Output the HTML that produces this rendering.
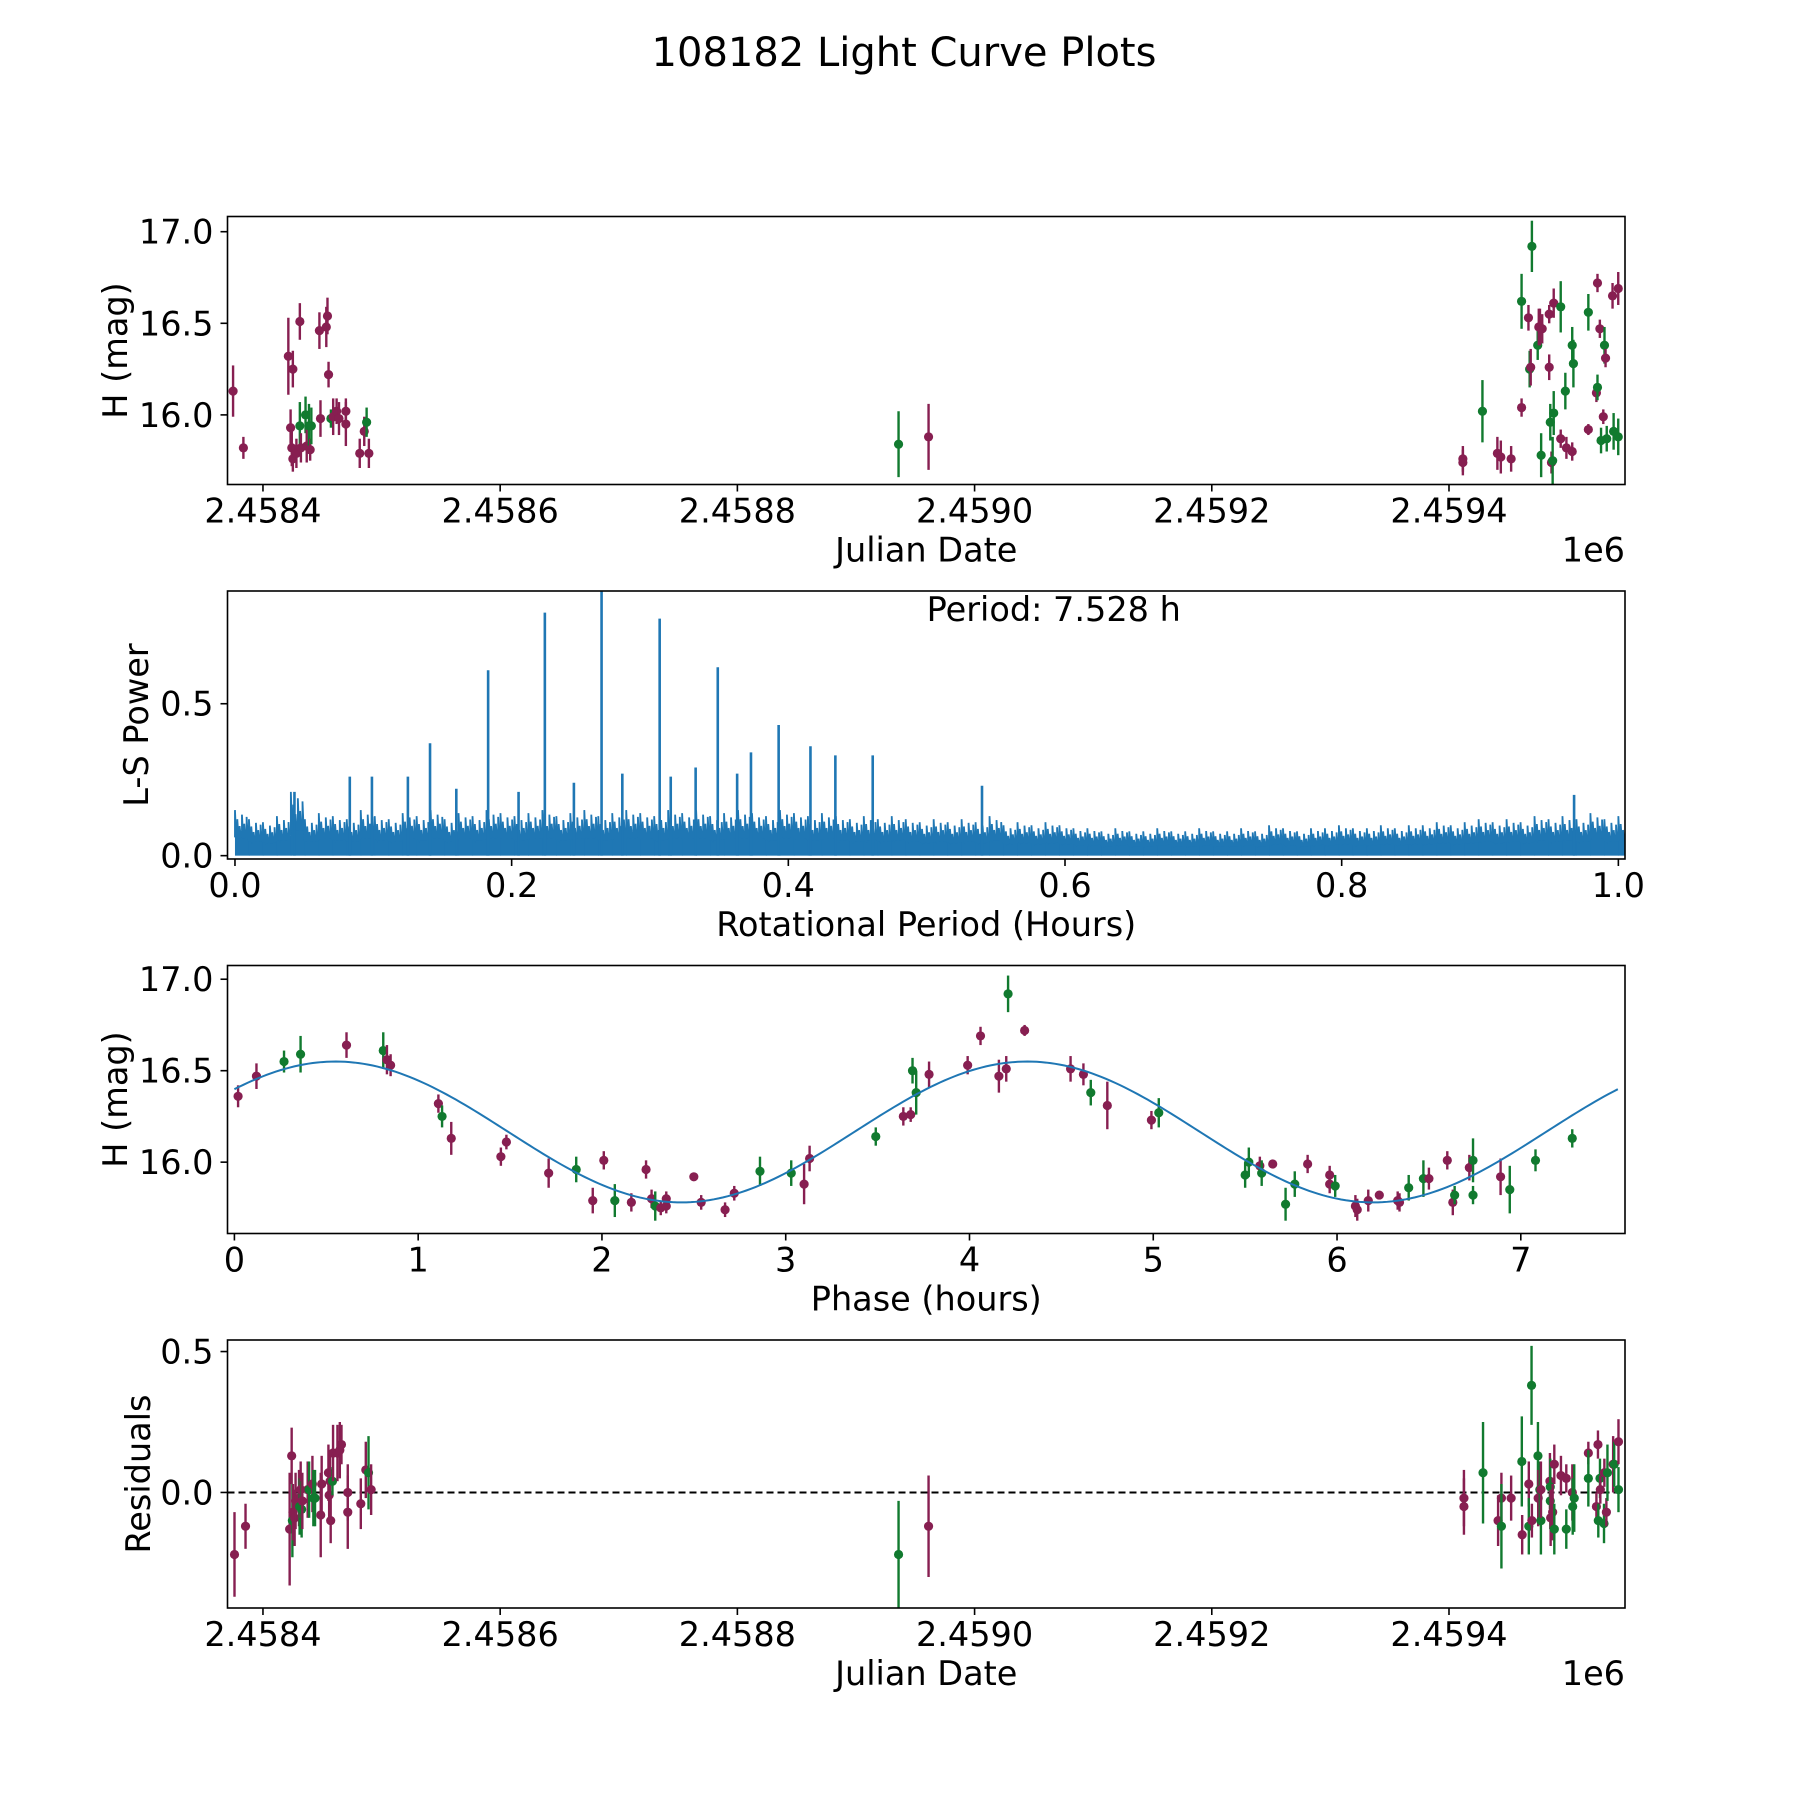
<!DOCTYPE html>
<html><head><meta charset="utf-8"><style>
html,body{margin:0;padding:0;background:#fff}
svg text{font-family:"DejaVu Sans","Liberation Sans",sans-serif;fill:#000}
</style></head><body>
<svg id="fig" width="1800" height="1800" viewBox="0 0 1800 1800" xmlns="http://www.w3.org/2000/svg">
<text x="904" y="66" font-size="40" text-anchor="middle">108182 Light Curve Plots</text>
<g id="p1"></g>
<g id="p2"></g>
<g id="p3"></g>
<g id="p4"></g>
</svg>
<script>
// ---- Panel 1: light curve (JD - 2458000)
const lcT = [374.8,383.5,421.4,423.3,424.3,425.2,425.2,428.2,431.1,431.1,432.0,435.9,436.9,438.8,439.8,440.8,447.6,448.5,453.4,454.4,455.3,457.3,459.2,462.1,464.1,469.9,469.9,481.6,485.4,487.4,489.3,935.9,961.2,
1411.7,1411.7,1428.2,1440.8,1443.7,1452.4,1461.2,1461.2,1467.0,1468.0,1468.9,1469.9,1474.8,1475.7,1476.7,1477.7,1478.6,1484.5,1484.5,1485.4,1486.4,1487.4,1488.3,1488.3,1494.2,1494.2,1498.1,1499.0,1503.9,1503.9,1504.9,1517.5,1517.5,1524.3,1525.2,1525.2,1527.2,1528.2,1530.1,1531.1,1532.0,1533.0,1537.9,1538.8,1542.7,1542.7];
const lcMag = [16.13,15.82,16.32,15.93,15.82,16.25,15.76,15.79,16.51,15.94,15.82,16.0,15.83,15.94,15.81,15.94,16.46,15.98,16.48,16.54,16.22,15.98,15.99,16.02,15.98,16.02,15.95,15.79,15.91,15.96,15.79,15.84,15.88,
15.76,15.74,16.02,15.79,15.77,15.76,16.04,16.62,16.53,16.25,16.26,16.92,16.38,16.48,16.48,15.78,16.47,16.26,16.55,15.96,15.74,15.75,16.01,16.61,16.59,15.87,16.13,15.82,15.80,16.38,16.28,16.56,15.92,16.12,16.15,16.72,16.47,15.86,15.99,16.38,16.31,15.87,16.65,15.91,16.69,15.88];
const lcErr = [0.14,0.06,0.21,0.10,0.10,0.10,0.07,0.08,0.10,0.13,0.08,0.10,0.09,0.12,0.06,0.10,0.10,0.10,0.11,0.10,0.07,0.05,0.10,0.07,0.09,0.07,0.12,0.08,0.08,0.08,0.08,0.18,0.18,
0.07,0.07,0.17,0.09,0.09,0.07,0.05,0.15,0.07,0.10,0.10,0.14,0.08,0.10,0.10,0.12,0.08,0.07,0.05,0.10,0.06,0.13,0.12,0.08,0.14,0.05,0.10,0.06,0.05,0.10,0.13,0.10,0.03,0.05,0.07,0.05,0.05,0.07,0.04,0.10,0.05,0.07,0.07,0.10,0.09,0.10];
const lcBand = "mmmmmmmmmgmgmgmgmmmmmgmmmmmmmgmgm"+"mmgmmmmgmgmggmmgmmmgmggmgmgmmgggmmgmmgmgmgmgmg";

// ---- Panel 2: periodogram
const lsNoise = [0.15,0.12,0.11,0.13,0.21,0.12,0.14,0.13,0.12,0.15,0.13,0.12,0.14,0.13,0.15,0.12,0.14,0.13,0.15,0.14,0.13,0.14,0.15,0.13,0.14,0.15,0.13,0.14,0.15,0.14,0.13,0.15,0.14,0.15,0.13,0.14,0.15,0.14,0.13,0.15,0.14,0.13,0.14,0.13,0.12,0.13,0.12,0.13,0.12,0.11,0.12,0.11,0.12,0.11,0.13,0.10,0.11,0.10,0.11,0.10,0.09,0.09,0.08,0.09,0.08,0.08,0.09,0.08,0.08,0.09,0.08,0.08,0.09,0.08,0.10,0.09,0.08,0.09,0.09,0.10,0.09,0.09,0.10,0.09,0.10,0.10,0.11,0.10,0.11,0.12,0.11,0.12,0.11,0.13,0.12,0.13,0.12,0.14,0.12,0.13];
const peakPeriod = [0.043,0.083,0.099,0.125,0.141,0.160,0.183,0.205,0.224,0.245,0.265,0.280,0.307,0.315,0.333,0.349,0.363,0.373,0.393,0.416,0.434,0.461,0.540,0.968];
const peakPower  = [0.21,0.26,0.26,0.26,0.37,0.22,0.61,0.21,0.80,0.24,0.87,0.27,0.78,0.26,0.29,0.62,0.27,0.34,0.43,0.36,0.33,0.33,0.23,0.20];

// ---- Panel 3: phased
const phHours = [0.02,0.12,0.27,0.36,0.61,0.81,0.83,0.85,1.11,1.13,1.18,1.45,1.48,1.71,1.86,1.95,2.01,2.07,2.16,2.24,2.27,2.29,2.32,2.35,2.35,2.50,2.54,2.67,2.72,2.86,3.03,3.10,3.13,3.49,3.64,3.68,3.69,3.71,3.78,3.99,4.06,4.16,4.20,4.21,4.30,4.55,4.62,4.66,4.75,4.99,5.03,5.50,5.52,5.58,5.59,5.65,5.72,5.77,5.84,5.96,5.96,5.99,6.10,6.11,6.17,6.23,6.33,6.34,6.39,6.47,6.50,6.60,6.63,6.64,6.72,6.74,6.74,6.89,6.94,7.08,7.28];
const phMag = [16.36,16.47,16.55,16.59,16.64,16.61,16.56,16.53,16.32,16.25,16.13,16.03,16.11,15.94,15.96,15.79,16.01,15.79,15.78,15.96,15.80,15.76,15.75,15.80,15.76,15.92,15.78,15.74,15.83,15.95,15.94,15.88,16.02,16.14,16.25,16.26,16.50,16.38,16.48,16.53,16.69,16.47,16.51,16.92,16.72,16.51,16.48,16.38,16.31,16.23,16.27,15.93,16.00,15.98,15.94,15.99,15.77,15.88,15.99,15.88,15.93,15.87,15.76,15.74,15.79,15.82,15.79,15.78,15.86,15.91,15.91,16.01,15.78,15.82,15.97,16.01,15.82,15.92,15.85,16.01,16.13];
const phErr = [0.06,0.07,0.06,0.10,0.07,0.10,0.08,0.06,0.05,0.06,0.09,0.05,0.04,0.08,0.07,0.07,0.05,0.09,0.05,0.05,0.05,0.08,0.04,0.04,0.04,0.02,0.04,0.04,0.04,0.08,0.07,0.11,0.07,0.05,0.05,0.04,0.07,0.12,0.07,0.05,0.05,0.09,0.07,0.10,0.03,0.07,0.06,0.07,0.13,0.05,0.08,0.07,0.08,0.05,0.07,0.02,0.09,0.07,0.05,0.05,0.05,0.06,0.06,0.06,0.06,0.02,0.05,0.05,0.07,0.10,0.06,0.05,0.07,0.05,0.07,0.12,0.05,0.10,0.13,0.06,0.05];
const phBand = "mmggmgmmmgmmmmgmmgmmmgmmmmmmmggmmgmmggmmmmmgmmmgmmgggmgmggmmmgmmmmmmggmmmgmggmggggg";
const fitMean = 16.165, fitAmp = 0.385, fitPeak = 0.55, fitPeriod = 3.764;

// ---- Panel 4: residuals
const resT = [376.0,385.3,422.5,424.2,424.8,425.3,426.7,427.5,430.4,430.9,431.8,432.6,433.2,437.7,438.9,441.7,442.5,443.9,448.7,449.5,455.2,455.8,456.6,457.1,458.6,459.1,462.8,464.8,466.2,471.5,471.5,482.5,486.7,489.0,491.2,935.9,961.2,
1412.6,1412.6,1428.7,1441.4,1444.2,1444.2,1452.4,1461.4,1461.7,1467.3,1467.3,1469.6,1469.9,1475.0,1475.2,1476.6,1477.5,1477.5,1485.1,1485.4,1485.4,1485.7,1487.4,1488.8,1488.8,1494.4,1498.9,1498.9,1504.0,1504.3,1505.6,1517.5,1517.5,1524.3,1525.6,1525.9,1527.3,1527.6,1530.7,1531.0,1532.7,1533.6,1538.4,1539.3,1542.9,1542.9];
const resVal = [-0.22,-0.12,-0.13,0.13,-0.10,-0.07,-0.09,-0.03,-0.02,-0.05,0.01,-0.06,-0.03,0.01,0.01,0.03,-0.02,-0.02,-0.08,0.03,0.07,-0.01,0.04,-0.10,0.04,0.14,0.14,0.15,0.17,0.00,-0.07,-0.04,0.08,0.07,0.01,-0.22,-0.12,
-0.02,-0.05,0.07,-0.10,-0.02,-0.12,-0.02,0.11,-0.15,0.03,-0.12,0.38,-0.10,0.13,-0.02,0.01,-0.10,0.01,0.04,0.02,-0.03,-0.09,-0.07,0.10,-0.13,0.06,0.05,-0.13,0.00,-0.05,-0.02,0.14,0.05,-0.05,0.17,-0.10,0.05,0.01,-0.11,0.07,-0.07,0.07,0.10,0.10,0.18,0.01];
const resErr = [0.15,0.08,0.20,0.10,0.13,0.10,0.10,0.10,0.10,0.10,0.10,0.10,0.10,0.10,0.10,0.10,0.10,0.10,0.15,0.10,0.10,0.10,0.10,0.08,0.05,0.10,0.10,0.10,0.07,0.10,0.13,0.09,0.10,0.13,0.09,0.19,0.18,
0.10,0.10,0.18,0.09,0.09,0.15,0.08,0.16,0.07,0.08,0.10,0.14,0.06,0.12,0.10,0.10,0.12,0.10,0.10,0.10,0.10,0.10,0.10,0.07,0.09,0.07,0.05,0.07,0.10,0.10,0.12,0.04,0.10,0.05,0.05,0.06,0.07,0.05,0.07,0.05,0.05,0.10,0.10,0.08,0.08,0.08];
const resBand = "mmmmgmmmmgmgmmgmggmmmmmmgmmmmmmmmgmgm"+"mmgmmgmgmmggmgmggmmggmmmgmmgmggmgmmggmgmmgmgmg";

const jdTicks = [400,600,800,1000,1200,1400];
const jdTickLabels = ["2.4584","2.4586","2.4588","2.4590","2.4592","2.4594"];
const magTicks = [16.0,16.5,17.0];
const magTickLabels = ["16.0","16.5","17.0"];
const perTicks = [0,0.2,0.4,0.6,0.8,1.0];
const perTickLabels = ["0.0","0.2","0.4","0.6","0.8","1.0"];
const powTicks = [0,0.5];
const powTickLabels = ["0.0","0.5"];
const phTicks = [0,1,2,3,4,5,6,7];
const phTickLabels = ["0","1","2","3","4","5","6","7"];
const resTicks = [0,0.5];
const resTickLabels = ["0.0","0.5"];

const NS="http://www.w3.org/2000/svg";
const L=227.5, R=1625, H=268, FS=33.5;
const tops=[216.5,591,965.5,1340];
const MAROON="#871f51", GREEN="#117a2f";
function mk(parent,tag,attrs){const e=document.createElementNS(NS,tag);for(const k in attrs)e.setAttribute(k,attrs[k]);parent.appendChild(e);return e;}
function lin(d0,d1,r0,r1){return v=>r0+(v-d0)*(r1-r0)/(d1-d0);}

function axes(g,top,xs,ys,xt,xtl,yt,ytl,xlabel,ylabel,ylx,offset){
  const bot=top+H;
  xt.forEach((v,i)=>{const x=xs(v);
    const t=mk(g,'line',{x1:x,x2:x,y1:bot,y2:bot+7,stroke:'#000','stroke-width':1.6});
    
    const tx=mk(g,'text',{x:x,y:bot+38,'font-size':FS,'text-anchor':'middle'});tx.textContent=xtl[i];
    });
  yt.forEach((v,i)=>{const y=ys(v);
    const t=mk(g,'line',{x1:L-7,x2:L,y1:y,y2:y,stroke:'#000','stroke-width':1.6});
    
    const tx=mk(g,'text',{x:L-14,y:y+12,'font-size':FS,'text-anchor':'end'});tx.textContent=ytl[i];
    });
  const xl=mk(g,'text',{x:(L+R)/2,y:bot+77,'font-size':FS,'text-anchor':'middle'});xl.textContent=xlabel;
  
  const cy=top+H/2;
  const yl=mk(g,'text',{x:ylx,y:cy,'font-size':FS,'text-anchor':'middle',transform:`rotate(-90 ${ylx} ${cy})`});yl.textContent=ylabel;
  
  if(offset){const o=mk(g,'text',{x:R,y:bot+77,'font-size':FS,'text-anchor':'end'});o.textContent=offset;
    }
}
function frame(g,top){const f=mk(g,'rect',{x:L,y:top,width:R-L,height:H,fill:'none',stroke:'#000','stroke-width':1.6});
  }
function clip(id,top){const c=mk(document.getElementById('fig'),'clipPath',{id:id});mk(c,'rect',{x:L,y:top,width:R-L,height:H});}
function errPoints(g,xs,ys,X,Y,E,band,name){
  X.forEach((xv,i)=>{const col=band[i]==='g'?GREEN:MAROON;const x=xs(xv);
    const b=mk(g,'line',{x1:x,x2:x,y1:ys(Y[i]-E[i]),y2:ys(Y[i]+E[i]),stroke:col,'stroke-width':2.4});
    
    const c=mk(g,'circle',{cx:x,cy:ys(Y[i]),r:4.6,fill:col});
    });
}

// Panel 1
(function(){const g=document.getElementById('p1');const top=tops[0];
  const xs=lin(370.1,1548.4,L,R), ys=lin(15.62,17.083,top+H,top);
  clip('c1',top);const d=mk(g,'g',{'clip-path':'url(#c1)'});
  errPoints(d,xs,ys,lcT,lcMag,lcErr,lcBand,'observation');
  frame(g,top);axes(g,top,xs,ys,jdTicks,jdTickLabels,magTicks,magTickLabels,'Julian Date','H (mag)',127,'1e6');})();

// Panel 2
(function(){const g=document.getElementById('p2');const top=tops[1];
  const xs=lin(-0.0054,1.0048,L,R), ys=lin(-0.011,0.871,top+H,top);
  clip('c2',top);const d=mk(g,'g',{'clip-path':'url(#c2)'});
  const step=1/(lsNoise.length-1);
  let pts=[];
  const shape=[1,0.45,0.8,0.4,0.65,0.5,0.9,0.4,0.7,0.55,0.85,0.45];
  lsNoise.forEach((v,i)=>{const p0=i*step;
    const r=mk(d,'rect',{x:xs(p0),y:ys(v*0.5),width:xs(step)-xs(0)+0.5,height:ys(0)-ys(v*0.5),fill:'#1f77b4'});
    
    shape.forEach((s,k)=>{const p=p0+k*step/shape.length;pts.push(xs(p)+','+ys(v*0.4));pts.push(xs(p)+','+ys(v*s));});});
  const pl=mk(d,'polyline',{points:pts.join(' '),fill:'none',stroke:'#1f77b4','stroke-width':1.8});
  
  peakPeriod.forEach((p,i)=>{const x=xs(p);
    const l=mk(d,'line',{x1:x,x2:x,y1:ys(0),y2:ys(peakPower[i]),stroke:'#1f77b4','stroke-width':2.6});
    });
  frame(g,top);axes(g,top,xs,ys,perTicks,perTickLabels,powTicks,powTickLabels,'Rotational Period (Hours)','L-S Power',148,null);
  const t=mk(g,'text',{x:xs(0.5),y:top+30,'font-size':FS});t.textContent='Period: 7.528 h';
  })();

// Panel 3
(function(){const g=document.getElementById('p3');const top=tops[2];
  const xs=lin(-0.0376,7.567,L,R), ys=lin(15.61,17.075,top+H,top);
  clip('c3',top);const d=mk(g,'g',{'clip-path':'url(#c3)'});
  errPoints(d,xs,ys,phHours,phMag,phErr,phBand,'phased-observation');
  let pts=[];for(let i=0;i<=300;i++){const t=7.528*i/300;pts.push(xs(t)+','+ys(fitMean+fitAmp*Math.cos(2*Math.PI*(t-fitPeak)/fitPeriod)));}
  const pl=mk(d,'polyline',{points:pts.join(' '),fill:'none',stroke:'#1f77b4','stroke-width':2});
  
  frame(g,top);axes(g,top,xs,ys,phTicks,phTickLabels,magTicks,magTickLabels,'Phase (hours)','H (mag)',127,null);})();

// Panel 4
(function(){const g=document.getElementById('p4');const top=tops[3];
  const xs=lin(370.1,1548.4,L,R), ys=lin(-0.41,0.541,top+H,top);
  clip('c4',top);const d=mk(g,'g',{'clip-path':'url(#c4)'});
  const z=mk(d,'line',{x1:L,x2:R,y1:ys(0),y2:ys(0),stroke:'#000','stroke-width':2,'stroke-dasharray':'7,4'});
  
  errPoints(d,xs,ys,resT,resVal,resErr,resBand,'residual');
  frame(g,top);axes(g,top,xs,ys,jdTicks,jdTickLabels,resTicks,resTickLabels,'Julian Date','Residuals',150,'1e6');})();
</script>
</body></html>
